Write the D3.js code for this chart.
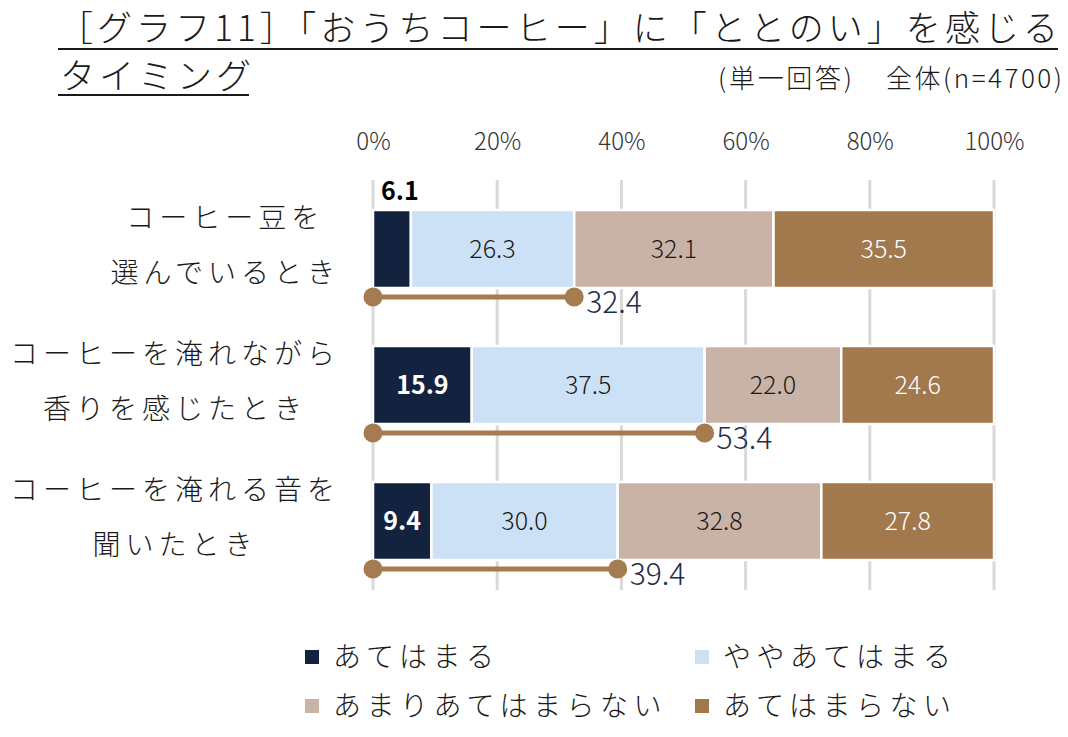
<!DOCTYPE html>
<html lang="ja">
<head>
<meta charset="utf-8">
<script src="https://cdn.jsdelivr.net/npm/d3@7"></script>
<style>
  body { margin: 0; background: #fff; }
  svg { display: block; font-family: "Noto Sans CJK JP", "Noto Sans", sans-serif; }
</style>
</head>
<body>
<div id="chart"></div>
<script>
// category labels (two lines each)
const categories = ['beans', 'brewing', 'sound'];
const categoryLines = [
  ['コーヒー豆を', '選んでいるとき'],
  ['コーヒーを淹れながら', '香りを感じたとき'],
  ['コーヒーを淹れる音を', '聞いたとき']
];

// series values (%)
const seriesNames = ['あてはまる', 'ややあてはまる', 'あまりあてはまらない', 'あてはまらない'];
const atehamaru = [6.1, 15.9, 9.4];
const yaya = [26.3, 37.5, 30.0];
const amari = [32.1, 22.0, 32.8];
const atehamaranai = [35.5, 24.6, 27.8];
const totals = [32.4, 53.4, 39.4];

const xTicks = [0, 20, 40, 60, 80, 100];

const colors = ['#13233f', '#cde1f6', '#c9b3a6', '#a2784d'];
const labelColors = ['#ffffff', '#1a1a1a', '#1a1a1a', '#ffffff'];
const lineColor = '#a57b50';

const W = 1068, H = 737;
const svg = d3.select('#chart').append('svg')
  .attr('width', W)
  .attr('height', H);

// Title
svg.append('text')
  .attr('x', 58)
  .attr('y', 41)
  .attr('textLength', 1000)
  .attr('lengthAdjust', 'spacing')
  .style('font-size', '35px')
  .style('font-weight', '300')
  .style('fill', '#1a1a1a')
  .text('［グラフ11］「おうちコーヒー」に「ととのい」を感じる');
svg.append('line')
  .attr('x1', 58).attr('x2', 1058)
  .attr('y1', 49).attr('y2', 49)
  .attr('stroke', '#1a1a1a').attr('stroke-width', 2);

svg.append('text')
  .attr('x', 60)
  .attr('y', 89)
  .style('font-size', '35px')
  .style('font-weight', '300')
  .style('letter-spacing', '4px')
  .style('fill', '#1a1a1a')
  .text('タイミング');
svg.append('line')
  .attr('x1', 58).attr('x2', 249)
  .attr('y1', 95).attr('y2', 95)
  .attr('stroke', '#1a1a1a').attr('stroke-width', 2);

// Subtitle (two parts)
svg.append('text')
  .attr('x', 718)
  .attr('y', 88)
  .attr('textLength', 134)
  .attr('lengthAdjust', 'spacing')
  .style('font-size', '26px')
  .style('font-weight', '300')
  .style('fill', '#1a1a1a')
  .text('(単一回答)');
svg.append('text')
  .attr('x', 886)
  .attr('y', 88)
  .attr('textLength', 176)
  .attr('lengthAdjust', 'spacing')
  .style('font-size', '26px')
  .style('font-weight', '300')
  .style('fill', '#1a1a1a')
  .text('全体(n=4700)');

// Scales
const x = d3.scaleLinear().domain([0, 100]).range([373, 994]);
const y = d3.scalePoint().domain(categories).range([249, 521]);
const barH = 78;

// Gridlines
svg.append('g')
  .selectAll('line')
  .data(xTicks)
  .enter()
  .append('line')
  .attr('x1', d => x(d)).attr('x2', d => x(d))
  .attr('y1', 180).attr('y2', 590)
  .attr('stroke', '#d9d9d9')
  .attr('stroke-width', 3);

// Top axis
const axis = svg.append('g')
  .attr('transform', 'translate(0,150)')
  .call(d3.axisTop(x).tickValues(xTicks).tickFormat(d => d + '%').tickSize(0).tickPadding(0));
axis.select('.domain').remove();
axis.selectAll('text')
  .style('font-family', '"Noto Sans CJK JP", sans-serif')
  .style('font-size', '24px')
  .style('font-weight', '300')
  .style('fill', '#333');

// Stacked bars
const rows = categories.map((c, i) => ({
  cat: c,
  s0: atehamaru[i], s1: yaya[i], s2: amari[i], s3: atehamaranai[i]
}));
const stack = d3.stack().keys(['s0', 's1', 's2', 's3'])(rows);

stack.forEach((layer, k) => {
  const g = svg.append('g');
  g.selectAll('rect')
    .data(layer)
    .enter()
    .append('rect')
    .attr('x', d => x(d[0]))
    .attr('y', d => y(d.data.cat) - barH / 2)
    .attr('width', d => x(d[1]) - x(d[0]))
    .attr('height', barH)
    .attr('fill', colors[k])
    .attr('stroke', '#fff')
    .attr('stroke-width', 2.5);

  g.selectAll('text')
    .data(layer)
    .enter()
    .append('text')
    .attr('x', d => {
      const v = d[1] - d[0];
      if (k === 0 && v < 8) return x(d[0]) + 8;
      return (x(d[0]) + x(d[1])) / 2;
    })
    .attr('y', d => {
      const v = d[1] - d[0];
      if (k === 0 && v < 8) return y(d.data.cat) - barH / 2 - 10;
      return y(d.data.cat) + 9;
    })
    .attr('text-anchor', d => (k === 0 && d[1] - d[0] < 8) ? 'start' : 'middle')
    .style('font-size', '25px')
    .style('font-weight', k === 0 ? '700' : '300')
    .style('fill', d => (k === 0 && d[1] - d[0] < 8) ? '#000' : labelColors[k])
    .text(d => (d[1] - d[0]).toFixed(1));
});

// Dumbbell (top-2 total)
const dumb = svg.append('g');
const lineOffset = 48;
dumb.selectAll('line')
  .data(categories)
  .enter()
  .append('line')
  .attr('x1', x(0))
  .attr('x2', (d, i) => x(totals[i]))
  .attr('y1', d => y(d) + lineOffset)
  .attr('y2', d => y(d) + lineOffset)
  .attr('stroke', lineColor)
  .attr('stroke-width', 5);
categories.forEach((c, i) => {
  [0, totals[i]].forEach(v => {
    dumb.append('circle')
      .attr('cx', x(v))
      .attr('cy', y(c) + lineOffset)
      .attr('r', 9.5)
      .attr('fill', lineColor);
  });
  dumb.append('text')
    .attr('x', x(totals[i]) + 12)
    .attr('y', y(c) + lineOffset + 16)
    .style('font-size', '30px')
    .style('font-weight', '300')
    .style('fill', '#1f2d4d')
    .text(totals[i].toFixed(1));
});

// Category labels: block right-aligned, lines centred within block
const labelRight = 335;
const catSpacing = 5;
categoryLines.forEach((lines, i) => {
  const g = svg.append('g');
  const texts = lines.map((l, j) => g.append('text')
    .attr('y', y(categories[i]) + (j === 0 ? -21 : 34))
    .attr('text-anchor', 'middle')
    .style('font-size', '28px')
    .style('font-weight', '300')
    .style('letter-spacing', catSpacing + 'px')
    .style('fill', '#1a1a1a')
    .text(l));
  const maxW = d3.max(texts, t => t.node().getComputedTextLength()) - catSpacing;
  texts.forEach(t => t.attr('x', labelRight - maxW / 2 + catSpacing / 2));
});

// Legend
const legendPos = [[305, 667], [695, 667], [305, 716], [695, 716]];
seriesNames.forEach((name, k) => {
  const [lx, ly] = legendPos[k];
  svg.append('rect')
    .attr('x', lx).attr('y', ly - 17)
    .attr('width', 14).attr('height', 14)
    .attr('fill', colors[k]);
  svg.append('text')
    .attr('x', lx + 28)
    .attr('y', ly)
    .style('font-size', '28px')
    .style('font-weight', '300')
    .style('letter-spacing', '5.5px')
    .style('fill', '#1a1a1a')
    .text(name);
});
</script>
</body>
</html>
